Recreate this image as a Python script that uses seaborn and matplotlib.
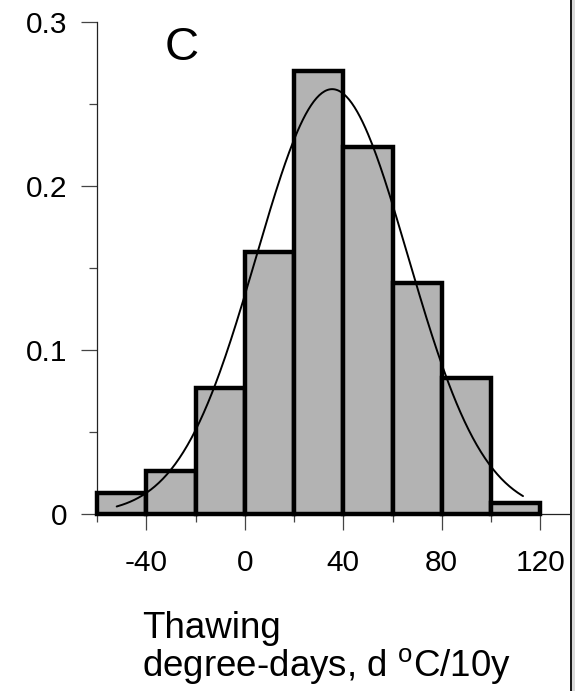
import numpy as np
import matplotlib
matplotlib.use("Agg")
import matplotlib.pyplot as plt
from matplotlib.patches import Rectangle
from matplotlib.ticker import FixedLocator, FuncFormatter
import seaborn as sns

# Histogram of decadal trends in thawing degree-days (fraction of stations per 20-unit bin)
bin_edges = [-60, -40, -20, 0, 20, 40, 60, 80, 100, 120]
bin_fractions = [0.013, 0.026, 0.077, 0.160, 0.270, 0.224, 0.141, 0.083, 0.007]

# Fitted normal distribution (scaled to bin width)
fit_mean = 35.5
fit_sd = 30.8
fit_range = [-52, 113]

x_major_ticks = [-40, 0, 40, 80, 120]
x_minor_ticks = [-60, -20, 20, 60, 100]
y_major_ticks = [0, 0.1, 0.2, 0.3]
y_minor_ticks = [0.05, 0.15, 0.25]

panel_label = "C"
xlabel_lines = ["Thawing", "degree-days, d $^{\\mathrm{o}}$C/10y"]

sns.set_style("ticks")
plt.rcParams["font.family"] = ["Liberation Sans", "DejaVu Sans"]
plt.rcParams["mathtext.fontset"] = "custom"
plt.rcParams["mathtext.rm"] = "Liberation Sans"
plt.rcParams["text.color"] = "black"

W, H = 575, 691
fig = plt.figure(figsize=(W / 100, H / 100), dpi=100)
ax_left, ax_bottom, ax_top = 97, 514, 22
ax = fig.add_axes([ax_left / W, 1 - ax_bottom / H, 1 - ax_left / W, (ax_bottom - ax_top) / H])

centers = [(a + b) / 2 for a, b in zip(bin_edges[:-1], bin_edges[1:])]
sns.histplot(x=centers, weights=bin_fractions, bins=bin_edges, stat="count",
             color="#b3b3b3", edgecolor="black", linewidth=3.2, alpha=1,
             ax=ax, zorder=2)
for p in ax.patches:
    p.set_clip_on(False)
    p.set_facecolor("#b3b3b3")
    p.set_edgecolor("black")

bw = bin_edges[1] - bin_edges[0]
xs = np.linspace(fit_range[0], fit_range[1], 300)
ys = bw * np.exp(-0.5 * ((xs - fit_mean) / fit_sd) ** 2) / (fit_sd * np.sqrt(2 * np.pi))
sns.lineplot(x=xs, y=ys, color="black", linewidth=1.4, ax=ax, zorder=3)

ax.set_xlim(-60, -60 + (W - ax_left) / 2.4625)
ax.set_ylim(0, 0.3)

sns.despine(ax=ax, top=True, right=True)
for s in ("left", "bottom"):
    ax.spines[s].set_linewidth(0.9)
    ax.spines[s].set_color("#222222")
    ax.spines[s].set_zorder(1)

ax.xaxis.set_major_locator(FixedLocator(x_major_ticks))
ax.xaxis.set_minor_locator(FixedLocator(x_minor_ticks))
ax.yaxis.set_major_locator(FixedLocator(y_major_ticks))
ax.yaxis.set_minor_locator(FixedLocator(y_minor_ticks))
ax.yaxis.set_major_formatter(FuncFormatter(lambda v, _: "0" if v == 0 else f"{v:.1f}"))
ax.xaxis.set_major_formatter(FuncFormatter(lambda v, _: f"{v:.0f}"))

ax.tick_params(axis="both", which="major", length=11.5, width=0.9, color="#444444",
               labelsize=21.5, labelcolor="black", direction="out")
ax.tick_params(axis="both", which="minor", length=5.8, width=0.9, color="#444444",
               direction="out")
ax.tick_params(axis="y", which="major", pad=9.5)
ax.tick_params(axis="x", which="major", pad=13.5)
ax.set_xlabel("")
ax.set_ylabel("")

fig.text(165 / W, 1 - 60 / H, panel_label, fontsize=34, ha="left", va="baseline")
fig.text(142 / W, 1 - 638 / H, xlabel_lines[0], fontsize=26.5, ha="left", va="baseline")
fig.text(142 / W, 1 - 677 / H, xlabel_lines[1], fontsize=26.5, ha="left", va="baseline")

# Frame of the neighbouring panel on the right edge
fig.add_artist(Rectangle((570 / W, 0), 2.2 / W, 1, transform=fig.transFigure,
                         facecolor="#1a1a1a", edgecolor="none", zorder=10))
fig.add_artist(Rectangle((572.2 / W, 0), 3 / W, 1, transform=fig.transFigure,
                         facecolor="#d9d9d9", edgecolor="none", zorder=10))

fig.savefig("out.png", dpi=100)
